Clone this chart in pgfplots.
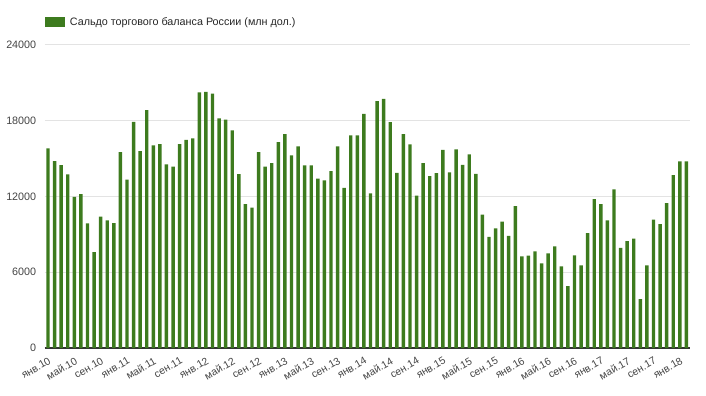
\documentclass[border=0pt]{standalone}
\usepackage{pgfplots}
\pgfplotsset{compat=1.18}
\usepackage{fontspec}
\setmainfont{Liberation Sans}
\definecolor{barg}{HTML}{3D7B1E}
\definecolor{gridc}{HTML}{E3E3E3}
\definecolor{basec}{HTML}{333333}
\definecolor{labc}{HTML}{444444}
\begin{document}
\begin{tikzpicture}
\begin{axis}[
  scale only axis, width=645bp, height=303bp,
  xmin=-0.5, xmax=97.5, ymin=0, ymax=24000,
  ytick={0,6000,12000,18000,24000},
  xtick={0,4,...,96},
  xticklabels={янв.10,май.10,сен.10,янв.11,май.11,сен.11,янв.12,май.12,сен.12,янв.13,май.13,сен.13,янв.14,май.14,сен.14,янв.15,май.15,сен.15,янв.16,май.16,сен.16,янв.17,май.17,сен.17,янв.18},
  major tick length=0pt,
  ymajorgrids, grid style={draw=gridc, line width=1bp},
  axis x line=bottom, axis y line=left,
  x axis line style={draw=basec, line width=1.2bp, -},
  y axis line style={draw=none},
  /pgf/number format/assume math mode=true,
  /pgf/number format/set thousands separator={},
  scaled y ticks=false,
  tick label style={font=\fontsize{10.8}{12}\selectfont, text=labc},
  yticklabel style={anchor=east, xshift=-5bp},
  xticklabel style={font=\fontsize{10.5}{12}\selectfont, rotate=30, anchor=north east, xshift=-1bp, yshift=-4bp},
  legend style={draw=none, fill=none, at={(0,1)}, anchor=west, yshift=23bp, xshift=0bp,
    font=\fontsize{10.8}{12}\selectfont, text=black!85, inner sep=0pt},
  legend image code/.code={\fill[barg] (0bp,-5bp) rectangle (20bp,5bp); \path (23bp,0bp);},
  clip=false,
]
\addplot[ybar, bar width=0.52, fill=barg, draw=none] coordinates {
(0,15810) (1,14800) (2,14490) (3,13750) (4,11980) (5,12190) (6,9870) (7,7600)
(8,10400) (9,10110) (10,9900) (11,15520) (12,13330) (13,17920) (14,15600) (15,18840)
(16,16050) (17,16150) (18,14540) (19,14360) (20,16150) (21,16490) (22,16600) (23,20240)
(24,20290) (25,20140) (26,18180) (27,18080) (28,17230) (29,13780) (30,11400) (31,11110)
(32,15520) (33,14360) (34,14650) (35,16310) (36,16940) (37,15250) (38,15970) (39,14460)
(40,14460) (41,13410) (42,13270) (43,14010) (44,15970) (45,12690) (46,16840) (47,16840)
(48,18550) (49,12240) (50,19550) (51,19740) (52,17890) (53,13880) (54,16940) (55,16120)
(56,12060) (57,14650) (58,13620) (59,13850) (60,15700) (61,13910) (62,15730) (63,14510)
(64,15330) (65,13800) (66,10560) (67,8810) (68,9470) (69,10000) (70,8890) (71,11240)
(72,7260) (73,7310) (74,7650) (75,6700) (76,7490) (77,8050) (78,6470) (79,4910)
(80,7340) (81,6540) (82,9100) (83,11800) (84,11400) (85,10110) (86,12560) (87,7940)
(88,8470) (89,8660) (90,3880) (91,6540) (92,10160) (93,9820) (94,11480) (95,13700)
(96,14780) (97,14780)
};
\addlegendentry{Сальдо торгового баланса России (млн дол.)}
\end{axis}
\useasboundingbox (-44.7bp,-48bp) rectangle (661.3bp,348bp);
\end{tikzpicture}
\end{document}
